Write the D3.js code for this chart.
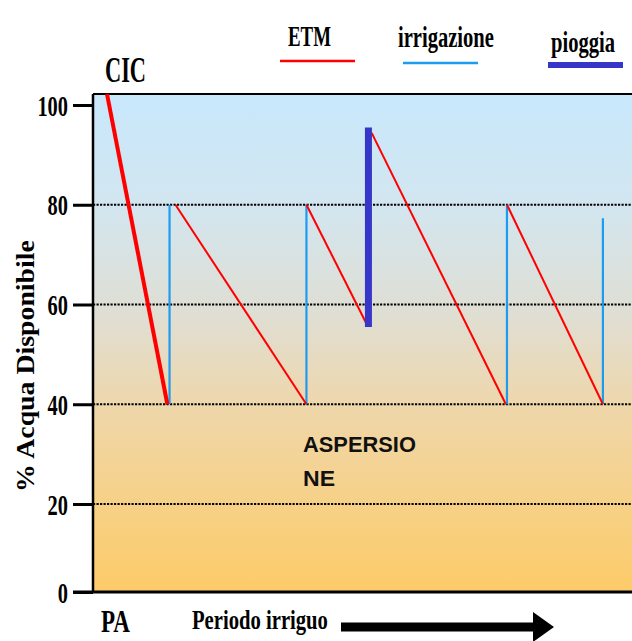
<!DOCTYPE html>
<html><head><meta charset="utf-8">
<script src="https://cdn.jsdelivr.net/npm/d3@7"></script>
<style>body{margin:0;background:#fff}svg{display:block}</style>
</head><body>
<svg id="c" width="632" height="641"></svg>
<script>
// ---- data ----
const yTicks = [0, 20, 40, 60, 80, 100];
const gridLevels = [20, 40, 60, 80];
// initial depletion from capacity (CIC) to threshold
const cicLine = [{t: 2.6, v: 102.2}, {t: 13.8, v: 40}];
// ETM depletion segments (time, % available water)
const etm = [
  {t0: 15.3, v0: 80,   t1: 39.6, v1: 40},
  {t0: 39.6, v0: 80,   t1: 51.0, v1: 55.6},
  {t0: 51.7, v0: 94.4, t1: 76.6, v1: 40},
  {t0: 76.8, v0: 80,   t1: 94.6, v1: 40}
];
// irrigation refills
const irrigation = [
  {t: 14.2, from: 40, to: 80},
  {t: 39.6, from: 40, to: 80},
  {t: 76.8, from: 40, to: 80},
  {t: 94.6, from: 40, to: 77.3}
];
// rain event
const rain = [{t: 51.1, from: 55.5, to: 95.5}];
const legendItems = ["ETM", "irrigazione", "pioggia"];

// ---- drawing ----
const svg = d3.select("#c");
const L = 93, R = 632, T = 94, B = 592;
const x = d3.scaleLinear().domain([0, 100]).range([L, R]);
const y = d3.scaleLinear().domain([0, 20, 100]).range([B, 504, 105]);

const defs = svg.append("defs");
const grad = defs.append("linearGradient").attr("id", "bg").attr("x1", 0).attr("y1", 0).attr("x2", 0).attr("y2", 1);
grad.append("stop").attr("offset", "0%").attr("stop-color", "#c8e8fc");
grad.append("stop").attr("offset", "22%").attr("stop-color", "#d2e6f0");
grad.append("stop").attr("offset", "45%").attr("stop-color", "#e0ded2");
grad.append("stop").attr("offset", "65%").attr("stop-color", "#f0d6a6");
grad.append("stop").attr("offset", "100%").attr("stop-color", "#fdcb68");

svg.append("rect").attr("x", L).attr("y", T).attr("width", R - L).attr("height", B - T).attr("fill", "url(#bg)");

// grid
svg.append("g").selectAll("line").data(gridLevels).join("line")
  .attr("x1", L).attr("x2", R).attr("y1", d => y(d)).attr("y2", d => y(d))
  .attr("stroke", "#000").attr("stroke-width", 2.2).attr("stroke-dasharray", "2.2,1.3");

// axis
const ax = svg.append("g").attr("transform", `translate(${L},0)`)
  .call(d3.axisLeft(y).tickValues(yTicks).tickSize(20).tickPadding(5).tickFormat(d3.format("d")));
ax.select(".domain").remove();
ax.selectAll(".tick line").attr("stroke", "#000").attr("stroke-width", 3);
const sx = 0.68;
ax.selectAll(".tick text")
  .attr("font-family", "Liberation Serif, Times New Roman, serif")
  .attr("font-weight", "bold").attr("font-size", 30).attr("fill", "#000")
  .attr("x", -25 / sx).attr("dy", "0.34em")
  .attr("transform", `scale(${sx},1)`);

// borders
svg.append("line").attr("x1", L).attr("x2", R).attr("y1", T).attr("y2", T).attr("stroke", "#000").attr("stroke-width", 2);
svg.append("line").attr("x1", L).attr("x2", L).attr("y1", T).attr("y2", B).attr("stroke", "#000").attr("stroke-width", 2.5);
svg.append("line").attr("x1", 73).attr("x2", R).attr("y1", B).attr("y2", B).attr("stroke", "#000").attr("stroke-width", 3);

// irrigation
svg.append("g").selectAll("line").data(irrigation).join("line")
  .attr("x1", d => x(d.t)).attr("x2", d => x(d.t)).attr("y1", d => y(d.from)).attr("y2", d => y(d.to))
  .attr("stroke", "#1d9bf0").attr("stroke-width", 2.2);

// ETM
svg.append("g").selectAll("line").data(etm).join("line")
  .attr("x1", d => x(d.t0)).attr("y1", d => y(d.v0)).attr("x2", d => x(d.t1)).attr("y2", d => y(d.v1))
  .attr("stroke", "#ff0000").attr("stroke-width", 2);

// CIC line
svg.append("line").attr("x1", x(cicLine[0].t)).attr("y1", y(cicLine[0].v))
  .attr("x2", x(cicLine[1].t)).attr("y2", y(cicLine[1].v))
  .attr("stroke", "#ff0000").attr("stroke-width", 4);

// rain
svg.append("g").selectAll("line").data(rain).join("line")
  .attr("x1", d => x(d.t)).attr("x2", d => x(d.t)).attr("y1", d => y(d.from)).attr("y2", d => y(d.to))
  .attr("stroke", "#3636c8").attr("stroke-width", 7);

// text helper: horizontally scaled to a target width via transform
function txt(str, lx, by, size, w, opts = {}) {
  const g = svg.append("g");
  const t = g.append("text").text(str)
    .attr("x", 0).attr("y", 0)
    .attr("font-family", opts.family || "Liberation Serif, Times New Roman, serif")
    .attr("font-weight", "bold").attr("font-size", size)
    .attr("fill", opts.fill || "#000");
  const nat = t.node().getComputedTextLength() || w;
  const s = w ? w / nat : 1;
  const rot = opts.rotate ? " rotate(-90)" : "";
  g.attr("transform", `translate(${lx},${by})${rot} scale(${s},1)`);
  return t;
}

// legend
const legX = [280, 403, 548];
const legTextX = [288, 398, 551];
const legW = [43, 96, 64];
const legBase = [46, 47, 52];
const legColor = ["#ff0000", "#1d9bf0", "#3636c8"];
const legSW = [2.5, 2.5, 6];
const legY = [61, 63, 65];
legendItems.forEach((s, i) => {
  txt(s, legTextX[i], legBase[i], 29, legW[i]);
  svg.append("line").attr("x1", legX[i]).attr("x2", legX[i] + 75)
    .attr("y1", legY[i]).attr("y2", legY[i]).attr("stroke", legColor[i]).attr("stroke-width", legSW[i]);
});

txt("CIC", 105, 82, 36, 41);
txt("% Acqua Disponibile", 34, 492, 26, 252, {rotate: true});
txt("PA", 101, 632, 31, 29);
txt("Periodo irriguo", 192, 629, 28, 136);

// arrow
svg.append("line").attr("x1", 341).attr("x2", 536).attr("y1", 627).attr("y2", 627).attr("stroke", "#000").attr("stroke-width", 9);
svg.append("path").attr("d", "M533,612 L554,627 L533,642 Z").attr("fill", "#000");

// ASPERSIONE label
txt("ASPERSIO", 303, 452, 22, 113, {family: "Liberation Sans, Arial, sans-serif", fill: "#111"});
txt("NE", 303, 486, 22, 32, {family: "Liberation Sans, Arial, sans-serif", fill: "#111"});
</script>
</body></html>
